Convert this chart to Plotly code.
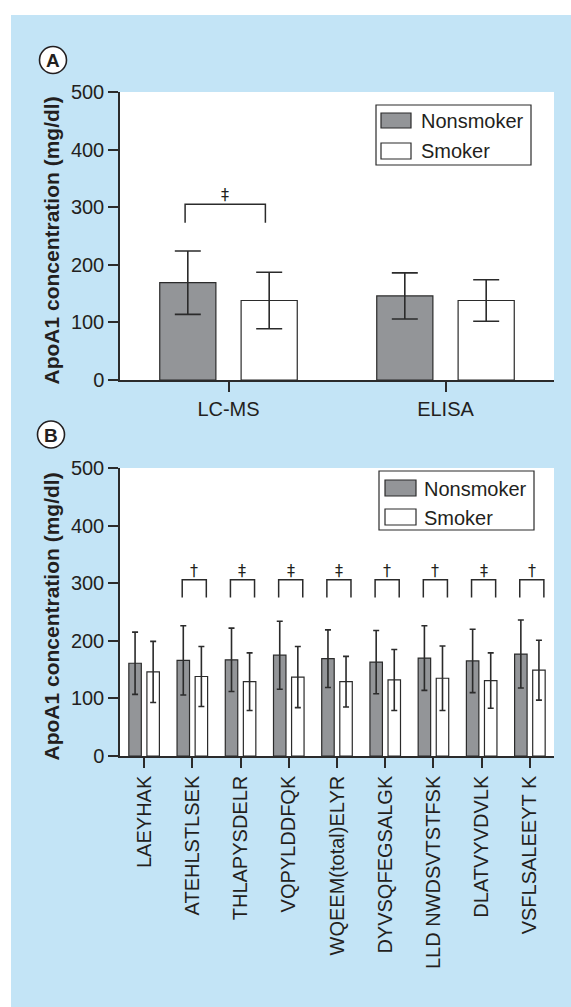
import plotly.graph_objects as go

# ---------------- data ----------------
methods = ["LC-MS", "ELISA"]
a_nonsmoker = [169, 146]
a_nonsmoker_sd = [55, 40]
a_smoker = [138, 138]
a_smoker_sd = [49, 36]
a_sig = ["‡", ""]

peptides = ["LAEYHAK", "ATEHLSTLSEK", "THLAPYSDELR", "VQPYLDDFQK",
            "WQEEM(total)ELYR", "DYVSQFEGSALGK", "LLD NWDSVTSTFSK",
            "DLATVYVDVLK", "VSFLSALEEYT K"]
b_nonsmoker = [161, 166, 167, 175, 169, 163, 170, 165, 177]
b_nonsmoker_sd = [54, 60, 55, 59, 50, 55, 56, 55, 59]
b_smoker = [146, 138, 129, 137, 129, 132, 135, 131, 149]
b_smoker_sd = [53, 52, 50, 53, 44, 53, 56, 48, 52]
b_sig = ["", "†", "‡", "‡", "‡", "†", "†", "‡", "†"]

yticks = [0, 100, 200, 300, 400, 500]

# ---------------- style ----------------
W, H = 571, 1007
BLUE = "#C3E4F6"
GRAY = "#939598"
INK = "#231F20"
LINE = "#2b2b2b"
FONT = "Liberation Sans, Arial, Helvetica, sans-serif"
SYMFONT = "DejaVu Sans, Liberation Sans, sans-serif"


def px(x):
    return x / W


def py(y):
    return 1 - y / H


fig = go.Figure()

# Panel A bars
fig.add_trace(go.Bar(x=methods, y=a_nonsmoker, name="Nonsmoker",
                     marker=dict(color=GRAY, line=dict(color=LINE, width=1.2)),
                     error_y=dict(type="data", array=a_nonsmoker_sd, visible=True,
                                  color=LINE, thickness=1.6, width=13),
                     xaxis="x", yaxis="y", showlegend=False))
fig.add_trace(go.Bar(x=methods, y=a_smoker, name="Smoker",
                     marker=dict(color="white", line=dict(color=LINE, width=1.2)),
                     error_y=dict(type="data", array=a_smoker_sd, visible=True,
                                  color=LINE, thickness=1.6, width=13),
                     xaxis="x", yaxis="y", showlegend=False))

# Panel B bars
fig.add_trace(go.Bar(x=peptides, y=b_nonsmoker, name="Nonsmoker",
                     marker=dict(color=GRAY, line=dict(color=LINE, width=1.2)),
                     error_y=dict(type="data", array=b_nonsmoker_sd, visible=True,
                                  color=LINE, thickness=1.6, width=3),
                     xaxis="x2", yaxis="y2", showlegend=False))
fig.add_trace(go.Bar(x=peptides, y=b_smoker, name="Smoker",
                     marker=dict(color="white", line=dict(color=LINE, width=1.2)),
                     error_y=dict(type="data", array=b_smoker_sd, visible=True,
                                  color=LINE, thickness=1.6, width=3),
                     xaxis="x2", yaxis="y2", showlegend=False))

shapes = []
annotations = []

# white margins (outside blue panel)
shapes.append(dict(type="rect", xref="paper", yref="paper", x0=0, x1=px(11), y0=0, y1=1,
                   fillcolor="white", line=dict(width=0), layer="below"))
shapes.append(dict(type="rect", xref="paper", yref="paper", x0=0, x1=1, y0=py(15), y1=1,
                   fillcolor="white", line=dict(width=0), layer="below"))


# significance brackets
def bracket(xref, yref, i, lo, hi, top, leg, sym, fsize, symy):
    shapes.append(dict(type="path", xref=xref, yref=yref,
                       path=f"M{i+lo},{leg} L{i+lo},{top} L{i+hi},{top} L{i+hi},{leg}",
                       line=dict(color=LINE, width=1.5)))
    annotations.append(dict(xref=xref, yref=yref, x=i + (lo + hi) / 2, y=symy, text=sym,
                            showarrow=False, font=dict(family=SYMFONT, size=fsize, color=INK),
                            xanchor="center", yanchor="middle"))


for i, s in enumerate(a_sig):
    if s:
        bracket("x", "y", i, -0.2, 0.17, 305, 273, s, 16, 322)
for i, s in enumerate(b_sig):
    if s:
        bracket("x2", "y2", i, -0.21, 0.29, 306, 275, s, 16, 322)


# manual legends
def legend(box, sw1, sw2, tx, ty1, ty2):
    x0, y0, x1, y1 = box
    shapes.append(dict(type="rect", xref="paper", yref="paper", x0=px(x0), x1=px(x1),
                       y0=py(y1), y1=py(y0), fillcolor="white",
                       line=dict(color=LINE, width=1.2)))
    for (a, b, c, d), col in ((sw1, GRAY), (sw2, "white")):
        shapes.append(dict(type="rect", xref="paper", yref="paper", x0=px(a), x1=px(c),
                           y0=py(d), y1=py(b), fillcolor=col,
                           line=dict(color=LINE, width=1.2)))
    for t, yy in (("Nonsmoker", ty1), ("Smoker", ty2)):
        annotations.append(dict(xref="paper", yref="paper", x=px(tx), y=py(yy), text=t,
                                showarrow=False, xanchor="left", yanchor="middle",
                                font=dict(family=FONT, size=20, color=INK)))


legend((376, 105, 531, 165), (381, 113, 411, 128), (381, 143, 411, 159), 419, 121, 151)
legend((379, 471, 534, 530), (385, 480, 416, 496), (385, 509, 416, 525), 422, 489, 518)

# panel letters
for cx, cy, letter in ((53, 60, "A"), (51, 434.5, "B")):
    r = 13.5
    shapes.append(dict(type="circle", xref="paper", yref="paper",
                       x0=px(cx - r), x1=px(cx + r), y0=py(cy + r), y1=py(cy - r),
                       fillcolor="white", line=dict(color=INK, width=1.6)))
    annotations.append(dict(xref="paper", yref="paper", x=px(cx), y=py(cy + 0.5),
                            text=f"<b>{letter}</b>", showarrow=False,
                            xanchor="center", yanchor="middle",
                            font=dict(family=FONT, size=19, color=INK)))

# y axis titles
for yc in ((98 + 383) / 2, (474 + 759) / 2):
    annotations.append(dict(xref="paper", yref="paper", x=px(51), y=py(yc),
                            text="<b>ApoA1 concentration (mg/dl)</b>", textangle=-90,
                            showarrow=False, xanchor="center", yanchor="middle",
                            font=dict(family=FONT, size=21, color=INK)))

xdom = [px(120), px(554)]
axis_common = dict(showline=True, linecolor=LINE, linewidth=1.5, ticks="outside",
                   ticklen=10, tickwidth=1.5, tickcolor=LINE, showgrid=False,
                   zeroline=False, automargin=False,
                   tickfont=dict(family=FONT, size=20, color=INK))

fig.update_layout(
    template="none",
    width=W, height=H, autosize=False,
    margin=dict(l=0, r=0, t=0, b=0, pad=0),
    paper_bgcolor=BLUE, plot_bgcolor="white",
    barmode="group", bargap=0.25, bargroupgap=0.31,
    font=dict(family=FONT, color=INK),
    xaxis=dict(domain=xdom, anchor="y", type="category", range=[-0.5, 1.5], **axis_common),
    yaxis=dict(domain=[py(380), py(92)], anchor="x", range=[0, 500], tickvals=yticks,
               **axis_common),
    xaxis2=dict(domain=xdom, anchor="y2", type="category", range=[-0.5, 8.5],
                tickangle=-90, **axis_common),
    yaxis2=dict(domain=[py(756), py(468)], anchor="x2", range=[0, 500], tickvals=yticks,
                **axis_common),
    shapes=shapes,
    annotations=annotations,
    showlegend=False,
)

fig.write_html("out.html",
               config={"displayModeBar": False},
               post_script="document.body.style.margin='0';"
                           "document.body.style.overflow='hidden';")
